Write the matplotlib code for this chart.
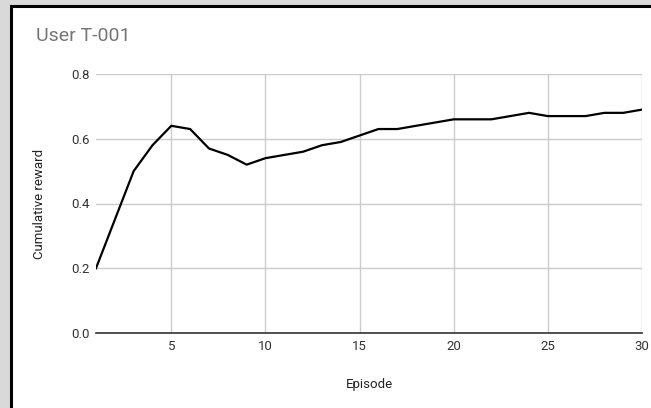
import matplotlib
matplotlib.use("Agg")
import matplotlib.pyplot as plt
from matplotlib.patches import Rectangle

plt.rcParams['font.family'] = ['Roboto', 'DejaVu Sans']

episodes = list(range(1, 31))
reward = [0.20, 0.35, 0.50, 0.58, 0.64, 0.63, 0.57, 0.55, 0.52, 0.54,
          0.55, 0.56, 0.58, 0.59, 0.61, 0.63, 0.63, 0.64, 0.65, 0.66,
          0.66, 0.66, 0.67, 0.68, 0.67, 0.67, 0.67, 0.68, 0.68, 0.69]
x_ticks = [5, 10, 15, 20, 25, 30]
y_ticks = [0.0, 0.2, 0.4, 0.6, 0.8]
title = "User T-001"
x_label = "Episode"
y_label = "Cumulative reward"

W, H = 651, 408
fig = plt.figure(figsize=(W / 100, H / 100), dpi=100)
fig.patch.set_facecolor('#d9d9d9')

# white card with black border (extends past right/bottom edge)
card = Rectangle((10.5 / W, -0.05), 1.1, 1 - 6.5 / H + 0.05,
                 transform=fig.transFigure, facecolor='white',
                 edgecolor='black', linewidth=2.2, zorder=-5)
fig.patches.append(card)

ax = fig.add_axes([96 / W, 1 - 333 / H, (642 - 96) / W, (333 - 74) / H])
ax.set_facecolor('none')

ax.plot(episodes, reward, color='black', linewidth=1.6, zorder=3,
        solid_joinstyle='round')

ax.set_xlim(1, 30)
ax.set_ylim(0, 0.8)
ax.set_xticks(x_ticks)
ax.set_yticks(y_ticks)
ax.set_yticklabels([f"{v:.1f}" for v in y_ticks])
ax.grid(True, color='#cccccc', linewidth=1)
ax.set_axisbelow(True)
for s in ['top', 'right', 'left']:
    ax.spines[s].set_visible(False)
ax.spines['bottom'].set_color('#333333')
ax.spines['bottom'].set_linewidth(1.2)
ax.spines['bottom'].set_zorder(4)
ax.tick_params(axis='both', length=0, labelsize=9.5, labelcolor='#333333')
ax.tick_params(axis='y', pad=4.5)
ax.tick_params(axis='x', pad=5)

ax.set_xlabel(x_label, fontsize=9.5, color='#222222', labelpad=18)
ax.set_ylabel(y_label, fontsize=9.5, color='#222222', labelpad=18)

fig.text(36 / W, 1 - 36 / H, title, fontsize=14, color='#757575',
         ha='left', va='center')

fig.savefig('out.png', dpi=100, facecolor=fig.get_facecolor())
